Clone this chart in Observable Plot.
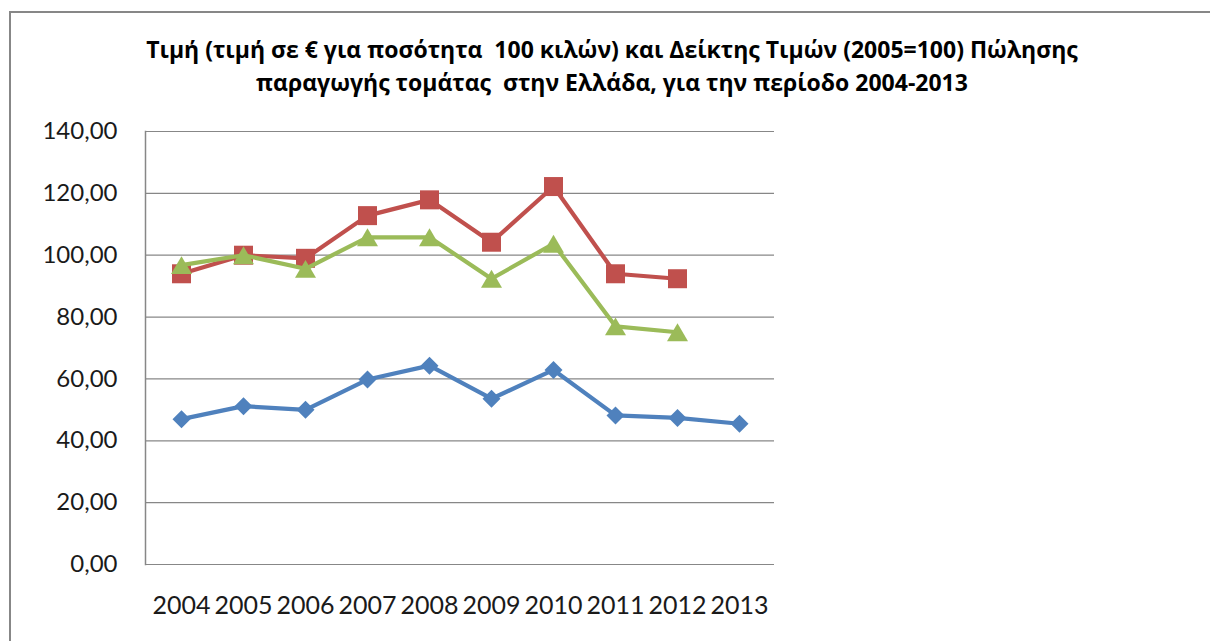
<!DOCTYPE html>
<html><head><meta charset="utf-8">
<script src="https://cdn.jsdelivr.net/npm/d3@7"></script>
<script src="https://cdn.jsdelivr.net/npm/@observablehq/plot@0.6"></script>
<style>
html,body{margin:0;padding:0;background:#fff;overflow:hidden;width:1210px;height:641px}
#frame{position:absolute;left:9px;top:11px;width:1400px;height:900px;border:2px solid #878787;box-sizing:border-box}
#title{position:absolute;left:0;top:0;width:1224px;text-align:center;font-family:"Open Sans",sans-serif;font-weight:bold;font-size:20px;line-height:33px;padding-top:33px;color:#000;white-space:pre}
#chart{position:absolute;left:0;top:110px}
</style></head>
<body>
<div id="frame"></div>
<div id="title"></div>
<div id="chart"></div>
<script>
// ---- data ----
const years = ["2004","2005","2006","2007","2008","2009","2010","2011","2012","2013"];
const priceValues = [47.0, 51.2, 50.0, 59.8, 64.3, 53.6, 62.9, 48.2, 47.4, 45.5];
const indexRedValues = [94.0, 100.0, 99.0, 112.8, 117.9, 104.2, 122.2, 94.0, 92.4, null];
const indexGreenValues = [96.8, 100.0, 95.6, 105.8, 105.8, 92.4, 103.7, 77.0, 75.1, null];
const yTicks = [0, 20, 40, 60, 80, 100, 120, 140];
const titleLines = [
  "Τιμή (τιμή σε € για ποσότητα  100 κιλών) και Δείκτης Τιμών (2005=100) Πώλησης",
  "παραγωγής τομάτας  στην Ελλάδα, για την περίοδο 2004-2013"
];

// title, fitted to the reference's line width
const titleEl = document.getElementById("title");
titleEl.textContent = titleLines.join("\n");
(function fitTitle(){
  const c = document.createElement("canvas").getContext("2d");
  c.font = "bold 20px 'Open Sans'";
  const w = c.measureText(titleLines[0]).width;
  if (w > 0) titleEl.style.fontSize = (20 * 932 / w).toFixed(2) + "px";
})();

const toRows = vals => years.map((year, i) => ({year, value: vals[i]})).filter(d => d.value != null);

const diamondSym = {draw(ctx, size){const r = Math.sqrt(size/Math.PI); ctx.moveTo(0,-r); ctx.lineTo(r,0); ctx.lineTo(0,r); ctx.lineTo(-r,0); ctx.closePath();}};
const squareSym = {draw(ctx, size){const r = Math.sqrt(size/Math.PI); ctx.rect(-r,-r,2*r,2*r);}};
const triSym = {draw(ctx, size){const r = Math.sqrt(size/Math.PI); const h = r*0.85; ctx.moveTo(0,-h); ctx.lineTo(r,h); ctx.lineTo(-r,h); ctx.closePath();}};

const series = [
  {rows: toRows(priceValues), color: "#4F81BD", symbol: diamondSym, r: 9},
  {rows: toRows(indexRedValues), color: "#C0504D", symbol: squareSym, r: 9.5},
  {rows: toRows(indexGreenValues), color: "#9BBB59", symbol: triSym, r: 10.5}
];

const fmt = d => d.toFixed(2).replace(".", ",");

const marks = [
  Plot.gridY(yTicks, {stroke: "#878787", strokeOpacity: 1, strokeWidth: 1.2}),
  Plot.frame({anchor: "left", stroke: "#878787", strokeWidth: 1.5}),
  Plot.axisY(yTicks, {tickSize: 0, tickPadding: 28, tickFormat: fmt, fontSize: 24, fill: "#1a1a1a"}),
  Plot.axisX({tickSize: 0, tickPadding: 32, fontSize: 25, fill: "#1a1a1a"})
];
for (const s of series) {
  marks.push(Plot.line(s.rows, {x: "year", y: "value", stroke: s.color, strokeWidth: 4.2, strokeLinejoin: "round", strokeLinecap: "round"}));
  marks.push(Plot.dot(s.rows, {x: "year", y: "value", symbol: s.symbol, r: s.r, fill: s.color, stroke: "none"}));
}

const chart = Plot.plot({
  width: 1210,
  height: 531,
  marginTop: 21,
  marginBottom: 77,
  marginLeft: 145,
  marginRight: 436,
  style: {fontFamily: "Lato, 'Open Sans', sans-serif", fontSize: "24px", color: "#1a1a1a", background: "transparent"},
  x: {type: "point", domain: years, padding: 0.5, label: null},
  y: {domain: [0, 140], label: null},
  marks
});
document.getElementById("chart").appendChild(chart);
</script>
</body></html>
